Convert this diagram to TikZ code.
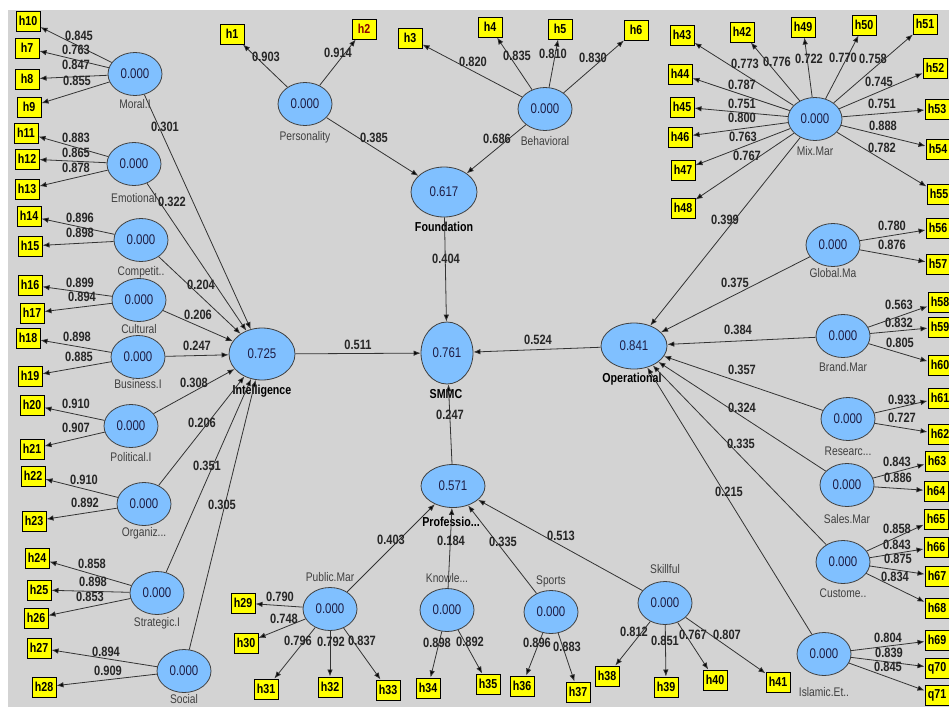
\documentclass[tikz,border=0pt]{standalone}
\usepackage{fontspec}
\setmainfont[FakeStretch=0.82]{Liberation Sans}
\usetikzlibrary{arrows.meta,shapes.geometric}

\definecolor{panel}{RGB}{211,211,211}
\definecolor{lvblue}{RGB}{128,192,255}
\definecolor{mvyellow}{RGB}{255,255,0}
\definecolor{valtext}{RGB}{30,30,70}

\tikzset{
  latent/.style={ellipse, draw=black!75, fill=lvblue, line width=0.8pt, inner sep=0pt,
    minimum width=54pt, minimum height=43pt, text=valtext, font=\fontsize{14}{15}\selectfont},
  indic/.style={rectangle, draw=black, fill=mvyellow, line width=1pt, inner sep=1pt,
    minimum width=24pt, minimum height=20pt, font=\fontsize{13}{14}\selectfont\bfseries},
  coef/.style={inner sep=0pt, text=black!85, font=\fontsize{13.5}{14}\selectfont\bfseries},
  lvname/.style={inner sep=0pt, text=black!75, font=\fontsize{12.5}{14}\selectfont},
  lvmain/.style={inner sep=0pt, font=\fontsize{13}{14}\selectfont\bfseries}
}

\begin{document}
\begin{tikzpicture}[x=1pt,y=-1pt,>={Latex[length=7pt,width=5.5pt]},line width=0.8pt]

  \useasboundingbox (0,0) rectangle (949,707);
  \fill[white] (0,0) rectangle (949,707);
  \fill[panel] (8,10) rectangle (949,707);

  % exogenous constructs
  \foreach \n/\x/\y/\lab/\ly in {moral/135/74/Moral.I/104, emot/134/164/Emotional/198,
      compet/141/240/Competit../272, cult/139/300/Cultural/329, busin/138/357/Business.I/384,
      polit/131/426/Political.I/457, organ/144/504/{Organiz.{}.{}.}/533, strat/157/593/Strategic.I/623,
      social/184/671/Social/699, person/305/104/Personality/137, behav/545/109/Behavioral/141,
      public/330/609/Public.Mar/577, knowl/447/610/{Knowle.{}.{}.}/578, sports/551/612/Sports/581,
      skill/665/603/Skillful/569, mix/815/119/Mix.Mar/151, global/833/245/Global.Ma/273,
      brand/843/336/Brand.Mar/367, resea/848/419/{Researc.{}.{}.}/451, sales/847/485/Sales.Mar/519,
      custom/843/562/Custome../593, islam/824/654/Islamic.Et../692}
  {
    \node[latent] (\n) at (\x,\y) {0.000};
    \node[lvname] (\n-name) at (\x,\ly) {\lab};
  }

  % endogenous constructs
  \node[latent, minimum width=66pt, minimum height=52pt] (intel) at (262,354) {0.725};
  \node[lvmain] (intel-name) at (262,391) {Intelligence};
  \node[latent, minimum width=66pt, minimum height=50pt] (found) at (444,192) {0.617};
  \node[lvmain] (found-name) at (444,227) {Foundation};
  \node[latent, minimum width=52pt, minimum height=62pt] (smmc) at (447,353) {0.761};
  \node[lvmain] (smmc-name) at (446,394) {SMMC};
  \node[latent, minimum width=64pt, minimum height=43pt] (prof) at (453,486) {0.571};
  \node[lvmain] (prof-name) at (451,522) {Professio...};
  \node[latent, minimum width=66pt, minimum height=46pt] (oper) at (634,346) {0.841};
  \node[lvmain] (oper-name) at (632,379) {Operational};

  % indicators
  \foreach \n/\x/\y in {h10/28/21, h7/27/48, h8/27/79, h9/29/107, h11/26/133, h12/27/159,
      h13/27/189, h14/29/216, h15/30/246, h16/30/285, h17/32/313, h18/28/338, h19/30/376,
      h20/32/405, h21/32/449, h22/33/476, h23/34/521, h24/37/558, h25/39/590, h26/36/618,
      h27/39/648, h28/44/687, h1/232/34, h3/410/38, h4/490/27, h5/560/29, h6/636/30,
      h29/243/603, h30/246/643, h31/266/689, h32/330/687, h33/388/690, h34/428/688, h35/488/684,
      h36/522/686, h37/578/692, h38/607/676, h39/666/687, h40/715/680, h41/778/682,
      h43/682/35, h42/742/32, h49/803/27, h50/864/25, h51/925/24, h44/680/74, h45/682/107,
      h46/680/137, h47/683/170, h48/683/208, h52/935/68, h53/937/109, h54/938/149, h55/939/194,
      h56/938/228, h57/938/264, h58/940/302, h59/940/327, h60/940/365, h61/940/398, h62/940/434,
      h63/937/461, h64/936/491, h65/936/519, h66/936/547, h67/937/576, h68/937/608,
      h69/937/640, q70/937/668, q71/937/695}
    \node[indic] (\n) at (\x,\y) {\n};
  \node[indic, text=red!55!black] (h2) at (364,29) {h2};

  % outer loadings
  \foreach \a/\b/\v/\x/\y in {moral/h10/0.845/79/36, moral/h7/0.763/76/50, moral/h8/0.847/76/65,
      moral/h9/0.855/77/81, emot/h11/0.883/76/138, emot/h12/0.865/76/153, emot/h13/0.878/76/168,
      compet/h14/0.896/80/218, compet/h15/0.898/80/233, cult/h16/0.899/80/283, cult/h17/0.894/82/297,
      busin/h18/0.898/77/337, busin/h19/0.885/79/357, polit/h20/0.910/76/404, polit/h21/0.907/76/428,
      organ/h22/0.910/84/480, organ/h23/0.892/85/503, strat/h24/0.858/92/564, strat/h25/0.898/93/582,
      strat/h26/0.853/90/597, social/h27/0.894/106/652, social/h28/0.909/108/671,
      person/h1/0.903/266/57, person/h2/0.914/338/53, behav/h3/0.820/473/62, behav/h4/0.835/517/56,
      behav/h5/0.810/553/54, behav/h6/0.830/593/58,
      public/h29/0.790/280/597, public/h30/0.748/284/619, public/h31/0.796/298/641,
      public/h32/0.792/331/642, public/h33/0.837/362/641, knowl/h34/0.898/437/643,
      knowl/h35/0.892/470/642, sports/h36/0.896/537/643, sports/h37/0.883/567/647,
      skill/h38/0.812/634/632, skill/h39/0.851/665/641, skill/h40/0.767/693/635, skill/h41/0.807/727/635,
      mix/h43/0.773/745/64, mix/h42/0.776/777/62, mix/h49/0.722/809/59, mix/h50/0.770/843/58,
      mix/h51/0.758/873/59, mix/h44/0.787/742/85, mix/h45/0.751/742/104, mix/h46/0.800/742/118,
      mix/h47/0.763/743/137, mix/h48/0.767/747/156, mix/h52/0.745/879/82, mix/h53/0.751/882/104,
      mix/h54/0.888/883/126, mix/h55/0.782/882/148, global/h56/0.780/892/226, global/h57/0.876/892/245,
      brand/h58/0.563/899/305, brand/h59/0.832/899/323, brand/h60/0.805/900/343,
      resea/h61/0.933/902/400, resea/h62/0.727/902/418, sales/h63/0.843/897/462, sales/h64/0.886/898/478,
      custom/h65/0.858/897/529, custom/h66/0.843/897/545, custom/h67/0.875/898/559,
      custom/h68/0.834/895/577, islam/h69/0.804/888/638, islam/q70/0.839/889/653, islam/q71/0.845/888/667}
  {
    \path[->, draw=black!80] (\a) edge (\b);
    \node[coef] (c\b) at (\x,\y) {\v};
  }

  % path coefficients
  \foreach \a/\b/\v/\x/\y in {moral/intel/0.301/165/127, emot/intel/0.322/172/202,
      compet/intel/0.204/201/285, cult/intel/0.206/198/315, busin/intel/0.247/197/346,
      polit/intel/0.308/194/383, organ/intel/0.206/202/423, strat/intel/0.351/207/466,
      social/intel/0.305/222/505, person/found/0.385/374/138, behav/found/0.686/497/139,
      found/smmc/0.404/446/259, intel/smmc/0.511/358/345, oper/smmc/0.524/538/340,
      prof/smmc/0.247/450/415, public/prof/0.403/391/540, knowl/prof/0.184/451/541,
      sports/prof/0.335/503/542, skill/prof/0.513/561/536, mix/oper/0.399/725/220,
      global/oper/0.375/735/283, brand/oper/0.384/738/330, resea/oper/0.357/742/370,
      sales/oper/0.324/742/408, custom/oper/0.335/741/444, islam/oper/0.215/729/492}
  {
    \path[->, draw=black!80] (\a) edge (\b);
    \node[coef] (s\a) at (\x,\y) {\v};
  }

\end{tikzpicture}
\end{document}
